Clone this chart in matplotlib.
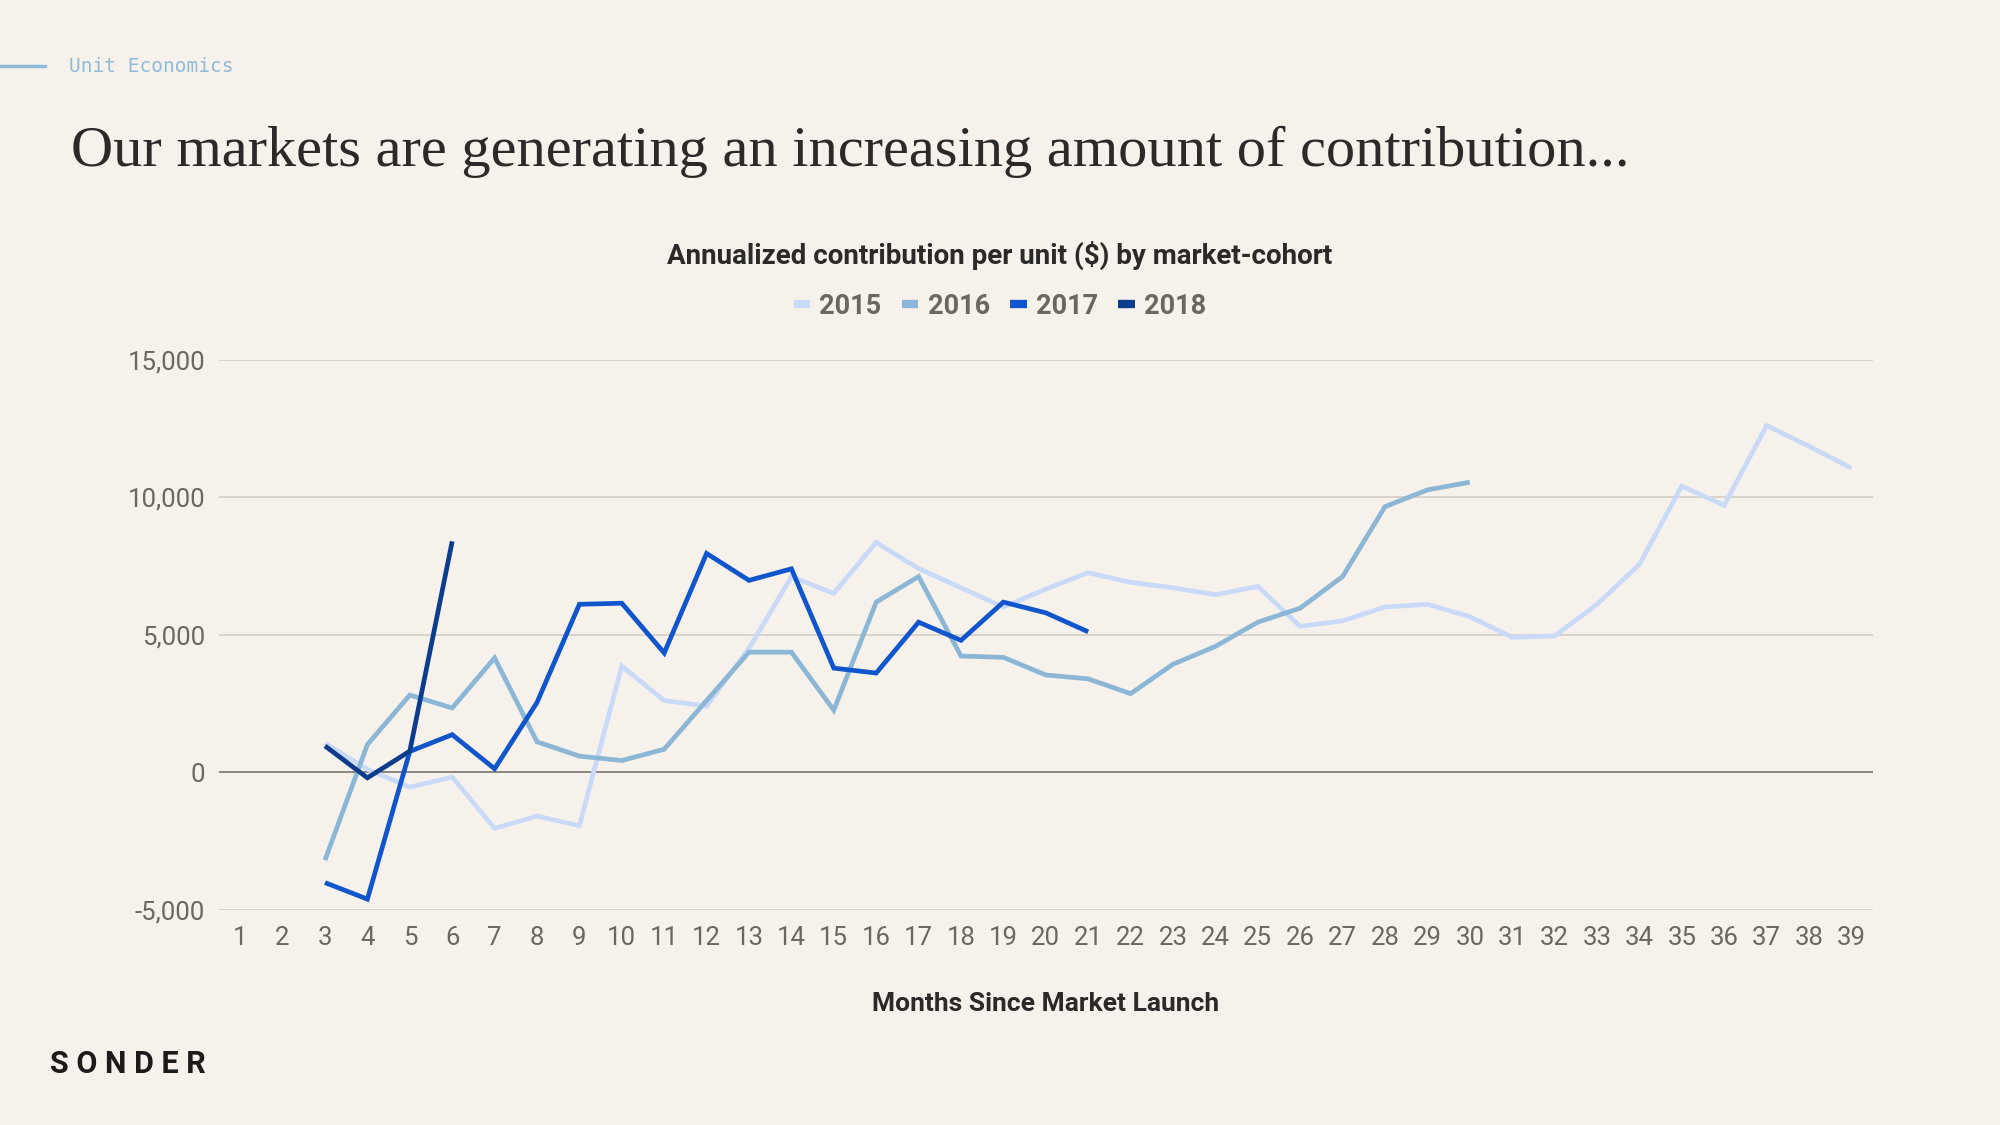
import numpy as np
import matplotlib
matplotlib.use("Agg")
import matplotlib.pyplot as plt
from matplotlib.lines import Line2D

# ---------------- data ----------------
months = list(range(1, 40))
month_labels = [str(m) for m in months]
nan = np.nan

cohort_2015 = [nan, nan, 1050, 100, -550, -180, -2050, -1600, -1950, 3850,
               2600, 2400, 4500, 7100, 6500, 8350, 7400, 6700, 6000, 6650,
               7250, 6900, 6700, 6450, 6750, 5300, 5500, 6000, 6100, 5650,
               4900, 4950, 6100, 7550, 10400, 9700, 12600, 11850, 11050]
cohort_2016 = [nan, nan, -3200, 1000, 2800, 2330, 4150, 1100, 580, 420,
               830, 2600, 4360, 4360, 2250, 6180, 7110, 4220, 4170, 3530,
               3390, 2850, 3920, 4570, 5450, 5960, 7110, 9650, 10260, 10540]
cohort_2017 = [nan, nan, -4020, -4620, 750, 1360, 120, 2530, 6100, 6140,
               4330, 7950, 6970, 7390, 3780, 3600, 5450, 4790, 6180, 5790,
               5100]
cohort_2018 = [nan, nan, 950, -210, 760, 8390]

series_names = ["2015", "2016", "2017", "2018"]
series_values = [cohort_2015, cohort_2016, cohort_2017, cohort_2018]
series_colors = ["#c9daf8", "#8cb6d6", "#1155cc", "#0d3c8c"]

y_ticks = [-5000, 0, 5000, 10000, 15000]

# ---------------- style ----------------
BG = "#f6f2eb"
plt.rcParams["font.family"] = ["Roboto", "DejaVu Sans"]

fig = plt.figure(figsize=(20, 11.25), dpi=100, facecolor=BG)
ax = fig.add_axes([0.1095, 0.1915, 0.8268, 0.4889])
ax.set_facecolor(BG)

for name, vals, col in zip(series_names, series_values, series_colors):
    ax.plot(months[:len(vals)], vals, color=col, lw=3.4,
            solid_joinstyle="miter", solid_capstyle="butt", zorder=3, label=name)

ax.set_xlim(0.5, 39.5)
ax.set_ylim(-5000, 15000)
ax.set_xticks(months)
ax.set_xticklabels(month_labels)
ax.set_yticks(y_ticks)
ax.set_yticklabels([f"{v:,}" for v in y_ticks])
for v in y_ticks:
    if v == 0:
        ax.axhline(v, color="#8c8782", lw=1.4, zorder=2)
    else:
        ax.axhline(v, color="#d3cec6", lw=1.2, zorder=1)
for s in ax.spines.values():
    s.set_visible(False)
ax.tick_params(axis="both", length=0, labelsize=18.5, labelcolor="#6b6661")
ax.tick_params(axis="y", pad=10)
ax.tick_params(axis="x", pad=12)

ax.set_xlabel("Months Since Market Launch", fontsize=19, fontweight="bold",
              color="#2b2a28", labelpad=30)

# chart title and legend
fig.text(0.5, 0.773, "Annualized contribution per unit ($) by market-cohort",
         ha="center", va="center", fontsize=20, fontweight="bold", color="#2b2a28")
handles = [Line2D([0], [0], color=c, lw=6, solid_capstyle="butt") for c in series_colors]
leg = fig.legend(handles, series_names, loc="center", bbox_to_anchor=(0.5, 0.728),
                 ncol=4, frameon=False, handlelength=0.6, handletextpad=0.35,
                 columnspacing=0.75, prop={"family": "Roboto", "weight": "bold", "size": 19.5})
for t in leg.get_texts():
    t.set_color("#6b6661")

# slide header
fig.add_artist(Line2D([0, 0.0225], [1 - 66 / 1125, 1 - 66 / 1125], color="#8fbbdb", lw=2.5,
                      transform=fig.transFigure))
fig.text(0.0345, 1 - 67 / 1125, "Unit Economics", ha="left", va="center",
         fontsize=14, color="#8fbad8", family="DejaVu Sans Mono")
fig.text(0.0355, 1 - 152 / 1125,
         "Our markets are generating an increasing amount of contribution...",
         ha="left", va="center", fontsize=42, color="#2b2a28", family="Liberation Serif")

# logo
fig.text(0.025, 1 - 1064 / 1125, "S O N D E R", ha="left", va="center",
         fontsize=22, fontweight="bold", color="#1c1b1a")

fig.savefig("out.png", dpi=100, facecolor=BG)
